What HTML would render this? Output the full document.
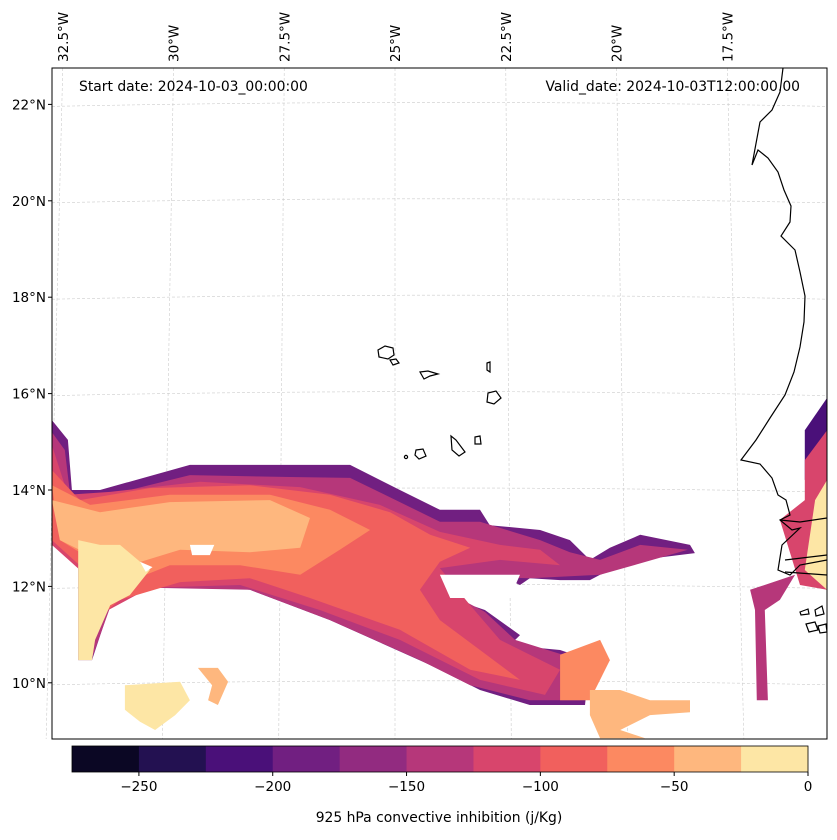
<!DOCTYPE html>
<html><head><meta charset="utf-8"><style>
body{margin:0;background:#fff;font-family:"DejaVu Sans","Liberation Sans",sans-serif;}
svg text{font-family:"DejaVu Sans","Liberation Sans",sans-serif;}
</style></head><body>
<svg id="chart" width="837" height="836" viewBox="0 0 837 836" xmlns="http://www.w3.org/2000/svg">
<defs><clipPath id="mapclip"><rect x="52" y="68" width="775" height="671"/></clipPath></defs>
<g id="grid"></g>
<g id="fills" clip-path="url(#mapclip)"></g>
<g id="coast" clip-path="url(#mapclip)" fill="none" stroke="#000" stroke-width="1.2">
<path d="M783,68 L780,92 L772,110 L760,122 L752,165 L758,150 L768,158 L778,172 L784,190 L791,206 L790,222 L781,236 L795,250 L800,272 L805,296 L804,322 L800,347 L794,372 L785,395 L770,418 L756,440 L741,460 L760,464 L772,478 L778,495 L786,500 L790,515 L780,520 L792,530 L800,528 L782,545 L778,570 L790,575 L800,565 L827,560"/>
<path d="M780,520 L800,522 L827,518 M785,560 L827,555 M785,572 L827,575"/>
<path d="M378,350 L385,346 L393,348 L394,355 L388,359 L379,357 Z"/>
<path d="M390,360 L396,359 L399,363 L393,365 Z"/>
<path d="M420,372 L428,371 L438,374 L430,376 L424,379 Z"/>
<path d="M487,363 L490,362 L490,372 L487,370 Z"/>
<path d="M488,393 L496,391 L501,398 L494,404 L487,402 Z"/>
<path d="M451,436 L456,440 L465,452 L459,456 L452,450 Z"/>
<path d="M475,437 L480,436 L481,444 L475,444 Z"/>
<path d="M416,450 L423,449 L426,456 L419,459 L415,455 Z"/>
<circle cx="406" cy="457" r="1.6"/>
<path d="M800,612 L808,609 L809,614 L801,615 Z M815,610 L822,606 L824,614 L816,616 Z M806,624 L815,622 L818,630 L809,632 Z M818,626 L826,624 L827,632 L820,633 Z"/>
</g>
<rect x="52" y="68" width="775" height="671" fill="none" stroke="#000" stroke-width="1"/>
<text x="79" y="91" font-size="13.9">Start date: 2024-10-03_00:00:00</text>
<text x="800" y="91" font-size="13.9" text-anchor="end">Valid_date: 2024-10-03T12:00:00.00</text>
<g id="cbar"></g>
<text x="439" y="822" font-size="13.9" text-anchor="middle">925 hPa convective inhibition (j/Kg)</text>
</svg>
<script>
const NS="http://www.w3.org/2000/svg";
const levelBounds=[-275,-250,-225,-200,-175,-150,-125,-100,-75,-50,-25,0];
const levelColors=["#0b0724","#231151","#4a1079","#711f81","#922b80","#b6377a","#d8456c","#f1605d","#fc8961","#feb77e","#fde6a5"];
const cbarTicks=[-250,-200,-150,-100,-50,0];
const latTicks=[10,12,14,16,18,20,22];
const lonTicks=[-32.5,-30,-27.5,-25,-22.5,-20,-17.5];
const lonLabels=["32.5°W","30°W","27.5°W","25°W","22.5°W","20°W","17.5°W"];
const regionValues=[-187,-137,-112,-87,-62,-37,-12,-12,-62,-37,-37,-225,-112,-12,-137];
const regionNames=["band-outer","band-b","band-c","band-d","band-e","band-f","yellow-west","yellow-south","south-orange","south-light","small-patch","africa-top","africa-mid","africa-core","africa-south"];
const regionLon=[
[-32.71,-32.35,-32.26,-31.63,-29.61,-27.36,-26.01,-24.89,-23.99,-23.09,-22.87,-21.74,-21.07,-20.62,-20.17,-19.49,-18.37,-18.26,-19.49,-20.39,-20.62,-21.29,-21.97,-22.19,-22.64,-23.99,-24.21,-23.65,-22.98,-22.19,-22.42,-21.29,-20.62,-20.73,-21.97,-23.09,-24.21,-26.46,-28.26,-29.38,-30.51,-31.40,-31.81,-32.12,-32.12,-32.71],
[-32.71,-32.42,-32.30,-31.63,-29.61,-27.36,-26.01,-24.89,-23.99,-23.09,-21.74,-21.07,-20.39,-19.49,-18.42,-20.39,-21.97,-23.99,-24.21,-22.98,-22.30,-20.84,-20.84,-21.97,-23.31,-24.44,-26.46,-28.26,-30.51,-31.40,-31.81,-32.08,-32.08,-32.71],
[-32.71,-32.35,-31.40,-29.38,-27.13,-25.34,-23.99,-22.64,-21.74,-21.29,-22.64,-23.99,-23.31,-22.64,-21.29,-21.63,-23.09,-24.89,-26.69,-28.48,-30.51,-31.52,-31.90,-32.08,-32.71],
[-32.71,-32.08,-30.51,-28.26,-26.46,-25.11,-24.21,-23.31,-23.99,-24.44,-23.99,-23.09,-22.19,-23.31,-24.89,-26.91,-28.26,-29.83,-31.18,-31.74,-31.97,-32.71],
[-32.71,-31.85,-30.06,-27.81,-26.46,-25.56,-26.24,-27.13,-28.48,-30.06,-31.18,-31.63,-31.81,-32.53],
[-32.71,-31.63,-30.06,-27.81,-26.91,-27.13,-28.26,-29.83,-31.18,-31.67,-31.85,-32.53],
[-32.12,-31.63,-31.18,-30.51,-30.96,-31.40,-31.74,-31.81,-32.12],
[-31.07,-29.83,-29.61,-29.94,-30.39,-30.73,-31.07],
[-21.29,-20.39,-20.17,-20.62,-21.29],
[-20.62,-19.94,-19.27,-18.37,-18.37,-19.27,-19.94,-19.38,-20.39,-20.62],
[-29.43,-28.98,-28.75,-28.98,-29.20,-29.11],
[-15.79,-15.29,-15.29,-15.79],
[-15.79,-15.29,-15.29,-15.90,-16.35,-15.79],
[-15.56,-15.29,-15.29,-15.79],
[-17.02,-16.01,-16.35,-16.69,-16.62,-16.87,-16.91]
];
const regionLat=[
[15.45,15.04,14.0,14.0,14.52,14.52,14.52,14.0,13.59,13.59,13.27,13.17,12.96,12.55,12.80,13.07,12.86,12.69,12.55,12.24,12.13,12.13,12.17,12.03,12.22,12.22,12.07,11.72,11.51,10.99,10.78,10.68,10.47,9.54,9.54,9.85,10.37,11.30,11.93,12.03,12.03,11.61,10.47,10.47,12.55,12.96],
[15.20,14.83,13.90,13.85,14.31,14.27,14.25,13.75,13.34,13.34,12.96,12.71,12.55,12.86,12.76,12.24,12.17,12.22,12.07,11.47,10.89,10.47,9.64,9.64,9.95,10.47,11.30,11.93,11.97,11.57,10.51,10.51,12.55,12.96],
[14.93,13.90,13.96,14.17,14.06,13.69,13.13,12.86,12.76,12.44,12.55,12.38,11.61,10.89,10.27,9.75,10.06,10.89,11.51,12.03,11.97,11.47,10.68,12.34,12.86],
[14.41,13.79,14.04,14.10,13.90,13.54,13.07,12.80,12.51,11.93,11.30,10.68,10.06,10.27,11.10,11.76,12.17,12.09,11.72,11.30,12.34,12.96],
[14.10,13.69,13.90,13.90,13.59,13.17,12.76,12.24,12.44,12.44,12.03,11.61,12.55,12.96],
[13.79,13.54,13.75,13.79,13.42,12.80,12.71,12.76,12.38,11.93,12.65,12.96],
[12.96,12.86,12.86,12.34,11.82,11.61,10.89,10.47,10.47],
[9.95,10.02,9.64,9.33,9.02,9.19,9.44],
[10.58,10.89,10.47,9.64,9.64],
[9.85,9.85,9.64,9.64,9.39,9.33,9.02,8.85,8.85,9.33],
[10.31,10.31,10.02,9.54,9.64,9.95],
[15.24,15.91,14.21,14.21],
[14.62,15.24,11.93,12.03,13.38,13.79],
[13.79,14.21,11.93,12.34],
[11.93,12.24,11.72,11.51,9.64,9.64,11.51]
];
const holeLon=[[-23.99,-22.19,-22.42,-23.76],[-29.61,-29.06,-29.16,-29.56],[-30.73,-30.45,-30.60]];
const holeLat=[[12.24,12.24,11.76,11.76],[12.86,12.86,12.65,12.65],[12.51,12.40,12.30]];
function xOf(lon){return 395+(lon+25)*44.5;}
function yOf(lat){return 490-(lat-14)*48.2;}
function colorOf(v){let i=Math.floor((v-levelBounds[0])/25);i=Math.max(0,Math.min(levelColors.length-1,i));return levelColors[i];}
function mk(tag,attrs,parent){const e=document.createElementNS(NS,tag);for(const k in attrs)e.setAttribute(k,attrs[k]);parent.appendChild(e);return e;}
const grid=document.getElementById('grid');
latTicks.forEach(lat=>{
  const y=yOf(lat);
  const l=mk('path',{d:`M52,${y+2} Q440,${y-6} 827,${y+2}`,fill:'none',stroke:'#ccc','stroke-width':0.6,'stroke-dasharray':'3,2'},grid);
  
  
  const t=mk('text',{x:46,y:y+5,'font-size':13.5,'text-anchor':'end'},grid);
  t.textContent=lat+'°N';
  
  
  const tk=mk('line',{x1:48,x2:52,y1:y,y2:y,stroke:'#000'},grid);
  
  
});
lonTicks.forEach((lon,i)=>{
  const xt=xOf(lon)-(lon+25)*0.2, xb=xt+(xt-395)*0.05;
  const l=mk('line',{x1:xt,y1:68,x2:xb,y2:739,stroke:'#ccc','stroke-width':0.6,'stroke-dasharray':'3,2'},grid);
  
  
  const t=mk('text',{x:0,y:0,'font-size':13.5,transform:`translate(${xt+5},62) rotate(-90)`},grid);
  t.textContent=lonLabels[i];
  
  
});
const fills=document.getElementById('fills');
regionValues.forEach((v,i)=>{
  const pts=regionLon[i].map((lon,j)=>xOf(lon).toFixed(1)+','+yOf(regionLat[i][j]).toFixed(1)).join(' ');
  const p=mk('polygon',{points:pts,fill:colorOf(v)},fills);
  
  
});
holeLon.forEach((lons,i)=>{
  const pts=lons.map((lon,j)=>xOf(lon).toFixed(1)+','+yOf(holeLat[i][j]).toFixed(1)).join(' ');
  const p=mk('polygon',{points:pts,fill:'#fff'},fills);
  
  
});
const cb=document.getElementById('cbar');
const cbX0=72,cbX1=808;
function cbX(v){return cbX0+(v-levelBounds[0])/(levelBounds[levelBounds.length-1]-levelBounds[0])*(cbX1-cbX0);}
levelColors.forEach((c,i)=>{
  const r=mk('rect',{x:cbX(levelBounds[i]),y:746,width:cbX(levelBounds[i+1])-cbX(levelBounds[i])+0.5,height:26,fill:c},cb);
  
  
});
const fr=mk('rect',{x:cbX0,y:746,width:cbX1-cbX0,height:26,fill:'none',stroke:'#000','stroke-width':0.8},cb);


cbarTicks.forEach(v=>{
  const x=cbX(v);
  const tk=mk('line',{x1:x,x2:x,y1:772,y2:776,stroke:'#000'},cb);
  
  
  const t=mk('text',{x:x,y:791,'font-size':13.5,'text-anchor':'middle'},cb);
  t.textContent=v<0?'\u2212'+Math.abs(v):String(v);
  
  
});
</script>
</body></html>
